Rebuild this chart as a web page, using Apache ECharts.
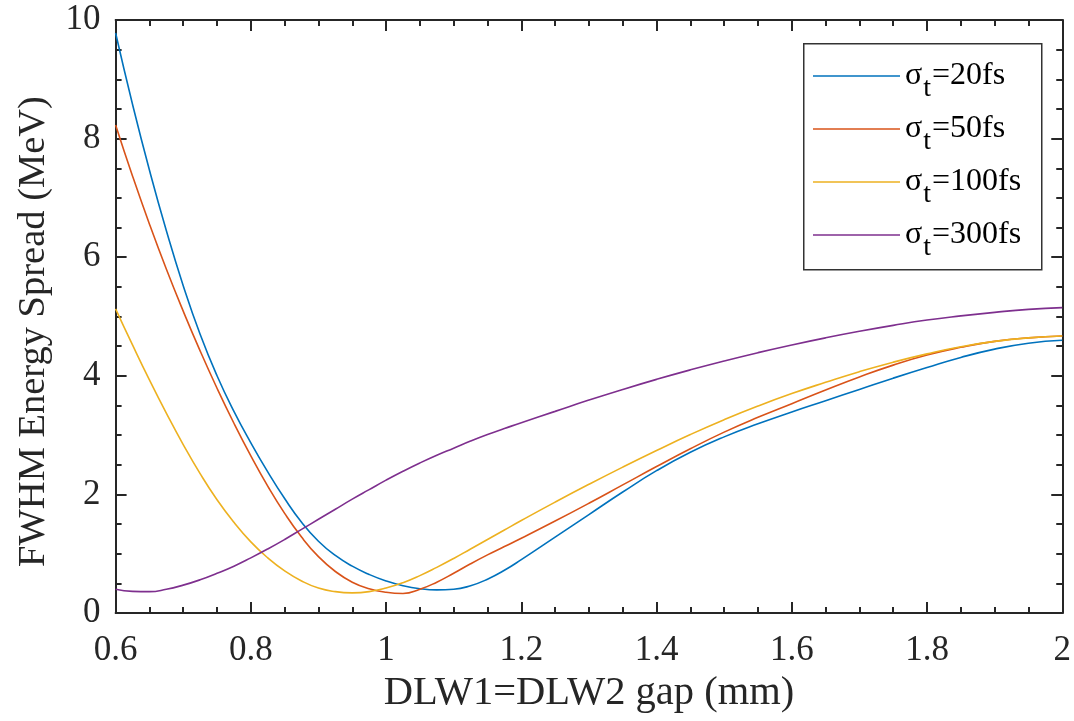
<!DOCTYPE html>
<html>
<head>
<meta charset="utf-8">
<script src="https://cdn.jsdelivr.net/npm/echarts@6/dist/echarts.min.js"></script>
<style>
  html, body { margin: 0; padding: 0; background: #fff; }
  #chart { width: 1074px; height: 721px; }
</style>
</head>
<body>
<div id="chart"></div>
<script>
// DLW1 = DLW2 gap in mm (sample positions shared by every curve)
const gapMm = [0.60, 0.625, 0.65, 0.675, 0.70, 0.725, 0.75, 0.775, 0.80, 0.825,
  0.85, 0.875, 0.90, 0.925, 0.95, 0.975, 1.00, 1.025, 1.05, 1.075,
  1.10, 1.125, 1.15, 1.175, 1.20, 1.25, 1.30, 1.35, 1.40, 1.45,
  1.50, 1.55, 1.60, 1.65, 1.70, 1.75, 1.80, 1.85, 1.90, 1.95, 2.00];

// FWHM energy spread (MeV) for each bunch length
const spread20fs = [9.78, 8.58, 7.47, 6.45, 5.52, 4.70, 4.00, 3.40, 2.87, 2.38,
  1.93, 1.53, 1.21, 0.97, 0.79, 0.65, 0.54, 0.46, 0.41, 0.39,
  0.40, 0.46, 0.57, 0.72, 0.90, 1.28, 1.66, 2.04, 2.40, 2.71,
  2.97, 3.19, 3.39, 3.58, 3.77, 3.96, 4.14, 4.31, 4.45, 4.55, 4.60];
const spread50fs = [8.23, 7.37, 6.56, 5.80, 5.09, 4.42, 3.79, 3.20, 2.65, 2.14,
  1.68, 1.28, 0.95, 0.70, 0.52, 0.41, 0.35, 0.33, 0.40, 0.52,
  0.67, 0.83, 0.98, 1.12, 1.26, 1.55, 1.85, 2.16, 2.47, 2.77,
  3.05, 3.30, 3.53, 3.76, 3.98, 4.18, 4.35, 4.48, 4.58, 4.64, 4.67];
const spread100fs = [5.13, 4.52, 3.93, 3.37, 2.84, 2.35, 1.91, 1.53, 1.20, 0.93,
  0.71, 0.54, 0.42, 0.36, 0.34, 0.36, 0.42, 0.51, 0.63, 0.77,
  0.92, 1.08, 1.24, 1.40, 1.56, 1.87, 2.17, 2.46, 2.74, 3.01,
  3.26, 3.49, 3.70, 3.89, 4.07, 4.23, 4.37, 4.49, 4.58, 4.64, 4.67];
const spread300fs = [0.40, 0.365, 0.36, 0.40, 0.47, 0.56, 0.67, 0.79, 0.93, 1.08,
  1.24, 1.41, 1.58, 1.75, 1.92, 2.08, 2.24, 2.39, 2.53, 2.66,
  2.78, 2.90, 3.01, 3.11, 3.21, 3.40, 3.59, 3.77, 3.94, 4.10,
  4.25, 4.39, 4.52, 4.64, 4.75, 4.85, 4.94, 5.01, 5.07, 5.12, 5.15];

const seriesNames = ['σt=20fs', 'σt=50fs', 'σt=100fs', 'σt=300fs'];
const seriesValues = [spread20fs, spread50fs, spread100fs, spread300fs];
const seriesColors = ['#0072BD', '#D95319', '#EDB120', '#7E2F8E'];

const xTicks = { min: 0.6, max: 2, interval: 0.2 };
const yTicks = { min: 0, max: 10, interval: 2 };

const FONT = 'Liberation Serif';
const INK = '#262626';

const chart = echarts.init(document.getElementById('chart'), null, { renderer: 'canvas' });

const frameAxis = (extra) => Object.assign({
  type: 'value',
  splitLine: { show: false },
  axisLine: { show: true, onZero: false, lineStyle: { color: INK, width: 2 } },
  axisTick: { show: true, inside: true, length: 11, lineStyle: { color: INK, width: 2 } },
  minorTick: { show: true, splitNumber: 4, length: 6, lineStyle: { color: INK, width: 2 } },
  minorSplitLine: { show: false }
}, extra);

const option = {
  animation: false,
  backgroundColor: '#ffffff',
  grid: { left: 115.6, right: 8.5, top: 20, bottom: 108, containLabel: false },
  xAxis: [
    frameAxis({
      position: 'bottom', min: xTicks.min, max: xTicks.max, interval: xTicks.interval,
      name: 'DLW1=DLW2 gap (mm)', nameLocation: 'middle', nameGap: 50,
      nameTextStyle: { fontFamily: FONT, fontSize: 40.5, color: INK },
      axisLabel: { show: true, margin: 20, fontFamily: FONT, fontSize: 35, color: INK }
    }),
    frameAxis({
      position: 'top', min: xTicks.min, max: xTicks.max, interval: xTicks.interval,
      axisLabel: { show: false }
    })
  ],
  yAxis: [
    frameAxis({
      position: 'left', min: yTicks.min, max: yTicks.max, interval: yTicks.interval,
      name: 'FWHM Energy Spread (MeV)', nameLocation: 'middle', nameGap: 62,
      nameTextStyle: { fontFamily: FONT, fontSize: 38.5, color: INK, padding: [0, 30, 0, 0] },
      axisLabel: { show: true, margin: 15, fontFamily: FONT, fontSize: 35, color: INK }
    }),
    frameAxis({
      position: 'right', min: yTicks.min, max: yTicks.max, interval: yTicks.interval,
      axisLabel: { show: false }
    })
  ],
  graphic: [{
    type: 'rect', left: 803, top: 43, z: 90,
    shape: { width: 238, height: 226 },
    style: { fill: '#ffffff', stroke: '#333333', lineWidth: 1.5 }
  }],
  legend: {
    orient: 'vertical', left: 813, top: 49, padding: 0,
    itemWidth: 87, itemHeight: 14, itemGap: -1, z: 100,
    icon: 'path://M0,0 L87,0 L87,1.6 L0,1.6 Z',
    data: seriesNames,
    formatter: (name) => '{s|σ}{t|t}{s|' + name.slice(2) + '}',
    textStyle: {
      fontFamily: FONT, fontSize: 32, color: '#000',
      rich: {
        s: { fontFamily: FONT, fontSize: 32, color: '#000', lineHeight: 36 },
        t: { fontFamily: FONT, fontSize: 28, color: '#000', lineHeight: 36, padding: [26, 1, 0, 1] }
      }
    }
  },
  series: seriesNames.map((name, i) => ({
    name: name,
    type: 'line',
    xAxisIndex: 0,
    yAxisIndex: 0,
    showSymbol: false,
    symbol: 'none',
    smooth: 0.5,
    color: seriesColors[i],
    lineStyle: { color: seriesColors[i], width: 1.6 },
    data: gapMm.map((x, k) => [x, seriesValues[i][k]])
  }))
};

chart.setOption(option);
</script>
</body>
</html>
